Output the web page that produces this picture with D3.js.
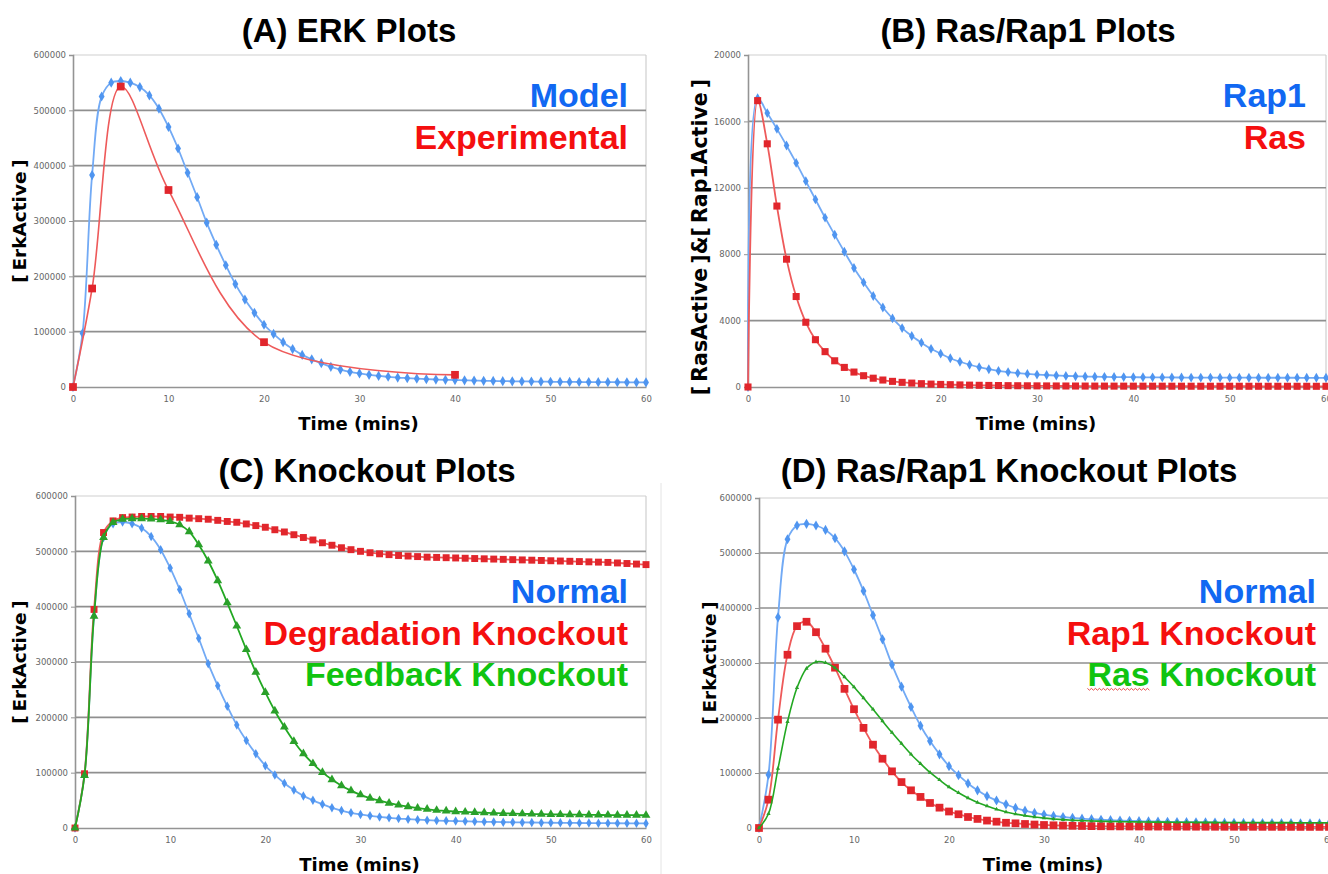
<!DOCTYPE html>
<html>
<head>
<meta charset="utf-8">
<script src="https://cdn.jsdelivr.net/npm/d3@7"></script>
<style>
  html, body { margin: 0; padding: 0; background: #fff; }
  svg { display: block; }
</style>
</head>
<body>
<div id="chart"></div>
<script>
// time axis (minutes) shared by the simulated series
const minutes = [0,1,2,3,4,5,6,7,8,9,10,11,12,13,14,15,16,17,18,19,20,21,22,23,24,25,26,27,28,29,30,
  31,32,33,34,35,36,37,38,39,40,41,42,43,44,45,46,47,48,49,50,51,52,53,54,55,56,57,58,59,60];
const xTicks = [0, 10, 20, 30, 40, 50, 60];
const erkTicks = [0, 100000, 200000, 300000, 400000, 500000, 600000];
const rasTicks = [0, 4000, 8000, 12000, 16000, 20000];

// (A) model / normal ERK, also reused as "Normal" in C and D
const erkNormal = [0,97000,383000,525000,550000,553000,550000,542000,527000,503000,470000,431000,387000,343000,297000,
  257000,220000,186000,158000,134000,112500,96000,81000,68500,58000,50000,43000,36500,31500,27500,24500,
  22000,20000,18500,17000,16000,15000,14200,13500,13000,12500,12000,11600,11200,10900,10600,10300,10100,9900,9700,
  9500,9300,9200,9000,8900,8800,8700,8600,8500,8400,8300];
const expTimes = [0, 2, 5, 10, 20, 40];
const erkExperimental = [0, 178000, 543000, 356000, 81000, 22000];

// (B) Ras / Rap1
const rap1Active = [0,17400,16500,15550,14550,13500,12400,11300,10200,9170,8150,7170,6300,5480,4790,
  4130,3550,3070,2670,2300,2010,1730,1520,1340,1190,1070,970,900,840,790,750,
  720,690,670,650,635,620,610,600,595,590,585,580,577,574,571,569,567,565,563,
  562,561,560,559,558,557,556,556,555,555,555];
const rasActive = [0,17250,14650,10900,7700,5450,3900,2850,2130,1580,1180,900,680,530,420,
  340,280,235,200,175,155,140,125,112,102,94,87,81,76,72,68,
  65,62,60,58,56,54,53,52,51,50,49,48,48,47,47,46,46,45,45,
  45,44,44,44,43,43,43,42,42,42,42];

// (C) knockouts
const degradationKO = [0,98000,395000,534000,555000,561000,562000,563000,563000,563000,562000,561500,560000,559000,558000,
  556000,554000,552500,549500,546500,543500,539000,535000,530000,525000,520500,515500,511000,506500,503000,500000,
  497500,495500,494000,492500,491500,490500,489500,489000,488500,488000,487500,487000,486500,486000,485500,485000,484500,484000,483500,
  483000,482500,482000,481500,481000,480500,480000,479000,478000,477000,476000];
const feedbackKO = [0,95000,383000,525000,552000,558000,559000,559000,558500,557000,554000,548000,535500,512000,482500,
  447000,407000,365000,322500,281500,245000,211500,182500,156500,134500,116500,100500,87500,76500,67500,60000,
  54000,49500,45000,41500,38500,36000,34000,32000,31000,29500,28800,28200,27600,27000,26500,26100,25700,25300,25000,
  24700,24400,24200,24000,23800,23600,23400,23300,23200,23100,23000];

// (D) Ras / Rap1 knockouts
const rap1KO = [0,51500,197000,315000,367000,375000,356000,326000,291500,253000,216000,182000,151500,126000,103000,
  83500,68500,56500,45500,37000,30000,25000,20000,16500,13500,11500,9500,8500,7300,6300,5500,
  4900,4400,4000,3700,3400,3200,3000,2900,2800,2700,2600,2550,2500,2450,2400,2350,2300,2250,2200,
  2200,2150,2150,2100,2100,2050,2050,2000,2000,2000,2000];
const rasKO = [0,26000,108000,193000,255000,290000,302000,300500,291000,274500,256500,236500,216000,194500,173500,
  153500,134000,117000,101000,87500,74500,64000,54500,46500,40000,34000,29000,25500,22500,20000,18000,
  16500,15200,14200,13400,12800,12300,11900,11600,11300,11000,10800,10700,10600,10500,10400,10300,10200,10150,10100,
  10000,9950,9900,9850,9800,9750,9700,9650,9600,9550,9500];

const BLUE = { line: '#72aaf5', mark: '#4f95f0', text: '#1168f2' };
const RED = { line: '#ee5a5a', mark: '#e1262c', text: '#f50f0f' };
const GREEN = { line: '#22a822', mark: '#2aa02a', text: '#10c410' };

const W = 1328, H = 874;
const svg = d3.select('#chart').append('svg').attr('width', W).attr('height', H);
svg.append('rect').attr('width', W).attr('height', H).attr('fill', '#fff');

// faint divider left of panel D
svg.append('line').attr('x1', 661).attr('x2', 661).attr('y1', 483).attr('y2', H)
  .attr('stroke', '#e4e4e4').attr('stroke-width', 1);

const TITLE_FONT = '"Liberation Sans", Arial, sans-serif';
const AXIS_FONT = '"DejaVu Sans", Verdana, sans-serif';

function drawPanel(cfg) {
  const g = svg.append('g');
  const b = cfg.box;
  const x = d3.scaleLinear().domain([0, 60]).range([b.left, b.right]);
  const y = d3.scaleLinear().domain([0, cfg.yTicks[cfg.yTicks.length - 1]]).range([b.bottom, b.top]);

  // plot frame
  g.append('line').attr('x1', b.left).attr('x2', b.right).attr('y1', b.top).attr('y2', b.top)
    .attr('stroke', '#cfcfcf').attr('stroke-width', 1.2);
  g.append('line').attr('x1', b.right).attr('x2', b.right).attr('y1', b.top).attr('y2', b.bottom)
    .attr('stroke', '#cfcfcf').attr('stroke-width', 1.2);

  // gridlines
  g.selectAll('line.grid')
    .data(cfg.yTicks.slice(1, -1))
    .join('line')
    .attr('class', 'grid')
    .attr('x1', b.left).attr('x2', b.right)
    .attr('y1', d => y(d)).attr('y2', d => y(d))
    .attr('stroke', '#8f8f8f').attr('stroke-width', 1.6);

  // axes
  const yAxis = g.append('g').attr('transform', `translate(${b.left},0)`)
    .call(d3.axisLeft(y).tickValues(cfg.yTicks).tickSize(4).tickPadding(3).tickFormat(d3.format('d')));
  const xAxis = g.append('g').attr('transform', `translate(0,${b.bottom})`)
    .call(d3.axisBottom(x).tickValues(xTicks).tickSize(0).tickPadding(9).tickFormat(d3.format('d')));
  [yAxis, xAxis].forEach(a => {
    a.select('.domain').attr('stroke', '#949494').attr('stroke-width', 1.6);
    a.selectAll('.tick line').attr('stroke', '#949494');
    a.selectAll('.tick text').attr('fill', '#666').attr('font-family', AXIS_FONT).attr('font-size', 8.5);
  });

  // series
  cfg.series.forEach(s => {
    const pts = s.values.map((v, i) => [s.times[i], v]);
    g.append('path')
      .datum(pts)
      .attr('fill', 'none')
      .attr('stroke', s.color.line)
      .attr('stroke-width', s.lineWidth || 1.8)
      .attr('d', d3.line().x(d => x(d[0])).y(d => y(d[1])).curve(d3.curveCatmullRom.alpha(0.5)));
    g.selectAll(null)
      .data(pts)
      .join('path')
      .attr('transform', d => `translate(${x(d[0])},${y(d[1])})`)
      .attr('d', d3.symbol().type(s.marker).size(s.markerSize))
      .attr('fill', s.color.mark);
  });

  // title
  svg.append('text')
    .attr('x', cfg.titleX).attr('y', cfg.titleY)
    .attr('text-anchor', 'middle')
    .attr('font-family', TITLE_FONT).attr('font-weight', 'bold').attr('font-size', 33)
    .attr('fill', '#000')
    .text(cfg.title);

  // axis titles
  svg.append('text')
    .attr('x', (b.left + b.right) / 2 - 1).attr('y', b.bottom + 43)
    .attr('text-anchor', 'middle')
    .attr('font-family', AXIS_FONT).attr('font-weight', 'bold').attr('font-size', 18)
    .text('Time (mins)');
  svg.append('text')
    .attr('transform', `translate(${cfg.yLabelX},${(b.top + b.bottom) / 2 + (cfg.yLabelDy || 0)}) rotate(-90)`)
    .attr('text-anchor', 'middle')
    .attr('font-family', AXIS_FONT).attr('font-weight', 'bold').attr('font-size', cfg.yLabelSize || 18.5)
    .text(cfg.yLabel);

  // in-plot legend text
  const legend = svg.append('g');
  cfg.legend.forEach((l, i) => {
    legend.append('text')
      .attr('x', cfg.legendX).attr('y', cfg.legendY + i * 41.5)
      .attr('text-anchor', 'end')
      .attr('font-family', TITLE_FONT).attr('font-weight', 'bold').attr('font-size', 34)
      .attr('fill', l.color.text)
      .text(l.text);
  });
  return legend;
}

const boxA = { left: 73, right: 646, top: 55, bottom: 387 };
const boxB = { left: 748, right: 1326, top: 55, bottom: 387 };
const boxC = { left: 75, right: 646, top: 496, bottom: 828 };
const boxD = { left: 759, right: 1329, top: 498, bottom: 828 };

drawPanel({
  box: boxA, yTicks: erkTicks, title: '(A) ERK Plots', titleX: 349, titleY: 42,
  yLabel: '[\u2009ErkActive\u2009]', yLabelX: 26,
  legendX: 628, legendY: 107,
  legend: [{ text: 'Model', color: BLUE }, { text: 'Experimental', color: RED }],
  series: [
    { times: minutes, values: erkNormal, color: BLUE, marker: d3.symbolDiamond, markerSize: 30 },
    { times: expTimes, values: erkExperimental, color: RED, marker: d3.symbolSquare, markerSize: 60, lineWidth: 1.6 }
  ]
});

drawPanel({
  box: boxB, yTicks: rasTicks, title: '(B) Ras/Rap1 Plots', titleX: 1028, titleY: 42,
  yLabel: '[\u2009RasActive\u2009]&[\u2009Rap1Active\u2009]', yLabelX: 707, yLabelSize: 20.5, yLabelDy: 16,
  legendX: 1306, legendY: 107,
  legend: [{ text: 'Rap1', color: BLUE }, { text: 'Ras', color: RED }],
  series: [
    { times: minutes, values: rap1Active, color: BLUE, marker: d3.symbolDiamond, markerSize: 28 },
    { times: minutes, values: rasActive, color: RED, marker: d3.symbolSquare, markerSize: 50 }
  ]
});

drawPanel({
  box: boxC, yTicks: erkTicks, title: '(C) Knockout Plots', titleX: 367, titleY: 482,
  yLabel: '[\u2009ErkActive\u2009]', yLabelX: 26,
  legendX: 628, legendY: 603,
  legend: [{ text: 'Normal', color: BLUE }, { text: 'Degradation Knockout', color: RED }, { text: 'Feedback Knockout', color: GREEN }],
  series: [
    { times: minutes, values: erkNormal, color: BLUE, marker: d3.symbolDiamond, markerSize: 26 },
    { times: minutes, values: degradationKO, color: RED, marker: d3.symbolSquare, markerSize: 48 },
    { times: minutes, values: feedbackKO, color: GREEN, marker: d3.symbolTriangle, markerSize: 34 }
  ]
});

const legendD = drawPanel({
  box: boxD, yTicks: erkTicks, title: '(D) Ras/Rap1 Knockout Plots', titleX: 1009, titleY: 482,
  yLabel: '[\u2009ErkActive\u2009]', yLabelX: 716,
  legendX: 1316, legendY: 603,
  legend: [{ text: 'Normal', color: BLUE }, { text: 'Rap1 Knockout', color: RED }, { text: 'Ras Knockout', color: GREEN }],
  series: [
    { times: minutes, values: erkNormal, color: BLUE, marker: d3.symbolDiamond, markerSize: 30 },
    { times: minutes, values: rap1KO, color: RED, marker: d3.symbolSquare, markerSize: 60 },
    { times: minutes, values: rasKO, color: GREEN, marker: d3.symbolTriangle, markerSize: 8, lineWidth: 1.6 }
  ]
});

// spell-check squiggle under "Ras"
const rasText = legendD.selectAll('text').filter((d, i) => i === 2).node();
const start = rasText.getStartPositionOfChar(0).x;
const end = rasText.getEndPositionOfChar(2).x;
const wave = d3.range(start, end, 2).map((px, i) => [px, 689 + (i % 2 ? 1.2 : -0.6)]);
svg.append('path').datum(wave)
  .attr('d', d3.line())
  .attr('fill', 'none').attr('stroke', '#e23a3a').attr('stroke-width', 0.9);
</script>
</body>
</html>
